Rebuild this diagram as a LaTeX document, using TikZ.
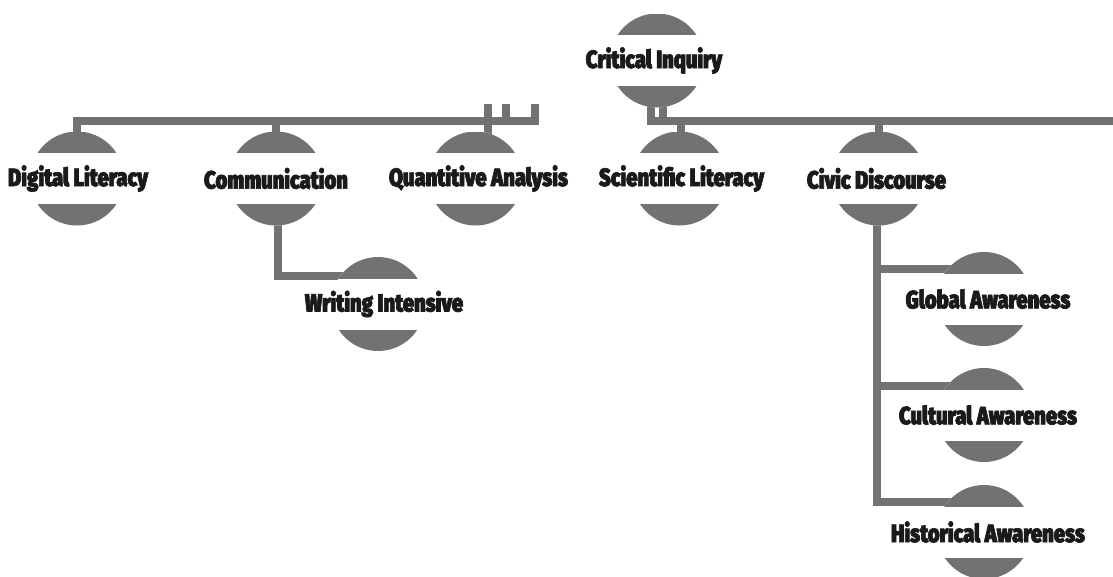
\documentclass[tikz,border=0pt]{standalone}
\usepackage{fontspec}
\newfontfamily\lblfont{Fira Sans Black}[FakeStretch=0.81,FakeBold=2.5]
\usetikzlibrary{calc}
\definecolor{capgray}{RGB}{114,114,114}
\definecolor{txtblack}{RGB}{26,26,26}
\pgfdeclarelayer{bg}
\pgfsetlayers{bg,main}
\tikzset{
  topic/.style={circle, minimum size=94pt, inner sep=0pt, path picture={
      \fill[white] (path picture bounding box.south west) rectangle (path picture bounding box.north east);
      \fill[capgray] (path picture bounding box.north west) rectangle ([yshift=25.5pt]path picture bounding box.east);
      \fill[capgray] (path picture bounding box.south west) rectangle ([yshift=-25.5pt]path picture bounding box.east);
  }},
  lbl/.style={font=\lblfont\fontsize{25}{25}\selectfont, text=txtblack, inner sep=0pt},
  conn/.style={draw=capgray, line width=8pt, line cap=butt, line join=miter},
}
\begin{document}
\begin{tikzpicture}[x=1pt,y=-1pt]
\useasboundingbox (0,0) rectangle (1113,576);
% nodes
\node[topic, label={[lbl,xshift=-3pt]center:Critical Inquiry}] (ci) at (657,60.5) {};
\node[topic, label={[lbl,xshift=1pt]center:Digital Literacy}] (dl) at (77,178.5) {};
\node[topic, label={[lbl]center:Communication}] (co) at (276,178.5) {};
\node[topic, label={[lbl,xshift=3pt]center:Quantitive Analysis}] (qa) at (475.5,178.5) {};
\node[topic, label={[lbl,xshift=2pt]center:Scientific Literacy}] (sl) at (679.5,178.5) {};
\node[topic, label={[lbl,xshift=-2pt]center:Civic Discourse}] (cd) at (878.5,178.5) {};
\node[topic, label={[lbl,xshift=6pt]center:Writing Intensive}] (wi) at (378,304) {};
\node[topic, label={[lbl,xshift=4pt]center:Global Awareness}] (ga) at (984,299) {};
\node[topic, label={[lbl,xshift=4pt]center:Cultural Awareness}] (ca) at (984,415) {};
\node[topic, label={[lbl,xshift=4pt]center:Historical Awareness}] (ha) at (984,532) {};
% free ends
\coordinate (lcorner) at (534.5,121);
\coordinate (lend) at (534.5,104);
\coordinate (qtop) at (488,104);
\coordinate (s2top) at (505.5,104);
\coordinate (rend) at (1125,121);
\coordinate (cdv) at ($(cd.center)+(-1.5,0)$);
\begin{pgfonlayer}{bg}
\draw[conn] (dl.center) |- (lcorner) -- (lend);
\draw[conn] (co.center) -- (co.center |- lcorner);
\draw[conn] (qtop) -- (qtop |- qa.center);
\draw[conn] (s2top) -- (s2top |- lcorner);
\draw[conn] ($(ci.center)+(-6.5,0)$) |- (rend);
\draw[conn] ($(ci.center)+(5.5,0)$) -- ($(ci.center |- rend)+(5.5,0)$);
\draw[conn] ($(sl.center)+(1,0)$) -- ($(sl.center |- rend)+(1,0)$);
\draw[conn] (cd.center) -- (cd.center |- rend);
\draw[conn] ($(co.center)+(2,0)$) |- ($(wi.center)+(0,-28.5)$);
\draw[conn] (cdv) |- ($(ha.center)+(0,-30.5)$);
\draw[conn] ($(cdv |- ga.center)+(0,-30)$) -- ($(ga.center)+(0,-30)$);
\draw[conn] ($(cdv |- ca.center)+(0,-29)$) -- ($(ca.center)+(0,-29)$);
\end{pgfonlayer}
\end{tikzpicture}
\end{document}
